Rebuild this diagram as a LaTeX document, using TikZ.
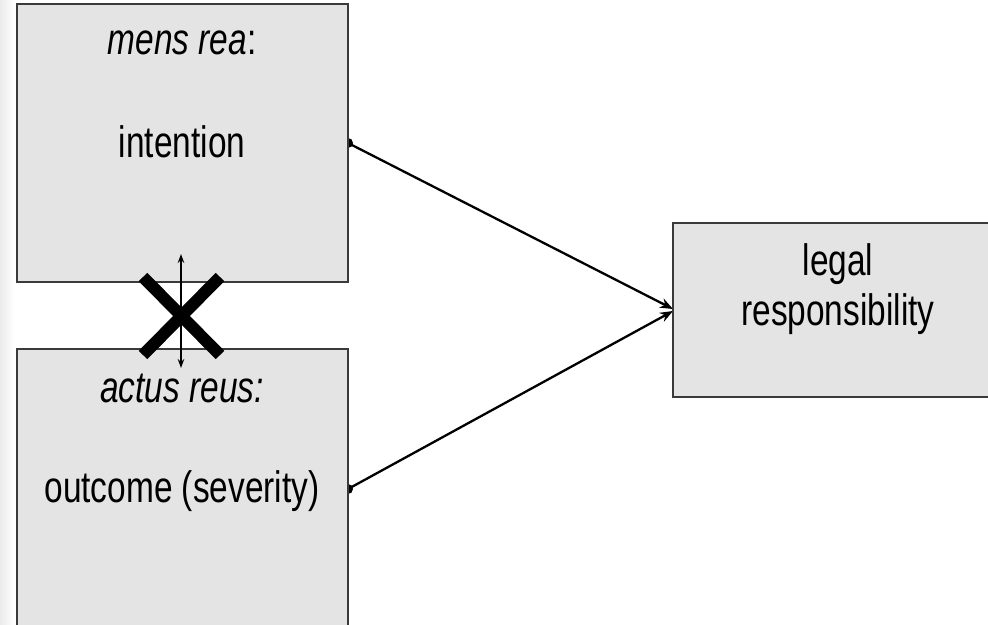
\documentclass[tikz,border=0pt]{standalone}
\usepackage{fontspec}
\setmainfont{Liberation Sans}[FakeStretch=0.76]
\usetikzlibrary{arrows.meta,backgrounds}
\definecolor{boxfill}{HTML}{E4E4E4}
\definecolor{boxline}{HTML}{3A3A3A}
\tikzset{
  box/.style={draw=boxline, line width=2.8pt, fill=boxfill, inner sep=0pt, outer sep=0pt},
  lbl/.style={anchor=base, inner sep=0pt, font=\fontsize{44}{50}\selectfont},
  conn/.style={line width=2.3pt, -{Stealth[length=13pt,width=10pt]}},
  dot/.style={fill=black},
  updown/.style={line width=1.4pt, {Stealth[length=9pt,width=6.5pt]}-{Stealth[length=9pt,width=6.5pt]}},
  cross/.style={line width=12pt, line cap=butt}
}
\begin{document}
\begin{tikzpicture}[x=1pt,y=-1pt]
\useasboundingbox (0,0) rectangle (988,624);
% boxes
\node[box, minimum width=331pt, minimum height=278pt] (b1) at (182.5,143) {};
\node[box, minimum width=331pt, minimum height=291pt] (b2) at (182.5,494.5) {};
\node[box, minimum width=330pt, minimum height=174pt] (b3) at (838,310) {};
% texts
\node[lbl] (t1) at (182,54) {\textit{mens rea}:};
\node[lbl] (t2) at (182,157) {intention};
\node[lbl] (t3) at (182,402) {\textit{actus reus:}};
\node[lbl] (t4) at (182,502) {outcome (severity)};
\node[lbl] (t5) at (838,275) {legal};
\node[lbl] (t6) at (838,325) {responsibility};
% connectors
\coordinate (s1) at (b1.east);
\coordinate (s2) at ([yshift=5.5pt]b2.east);
\coordinate (e1) at ([yshift=1pt]b3.west);
\coordinate (e2) at ([yshift=-1pt]b3.west);
\begin{scope}[on background layer]
\fill[white] (0,0) rectangle (988,624);
\shade[left color=black!8, right color=white] (0,0) rectangle (14,624);
\draw[conn] (s1) -- (e1);
\draw[conn] (s2) -- (e2);
\fill[dot] (s1) circle (5pt);
\fill[dot] (s2) circle (5pt);
\end{scope}
% cross and double arrow
\coordinate (x1) at (143,277);
\coordinate (x2) at (220,355);
\coordinate (x3) at (143,355);
\coordinate (x4) at (220,277);
\draw[cross] (x1) -- (x2);
\draw[cross] (x3) -- (x4);
\coordinate (u1) at (181,254);
\coordinate (u2) at (181,368);
\draw[updown] (u1) -- (u2);
\end{tikzpicture}
\end{document}
